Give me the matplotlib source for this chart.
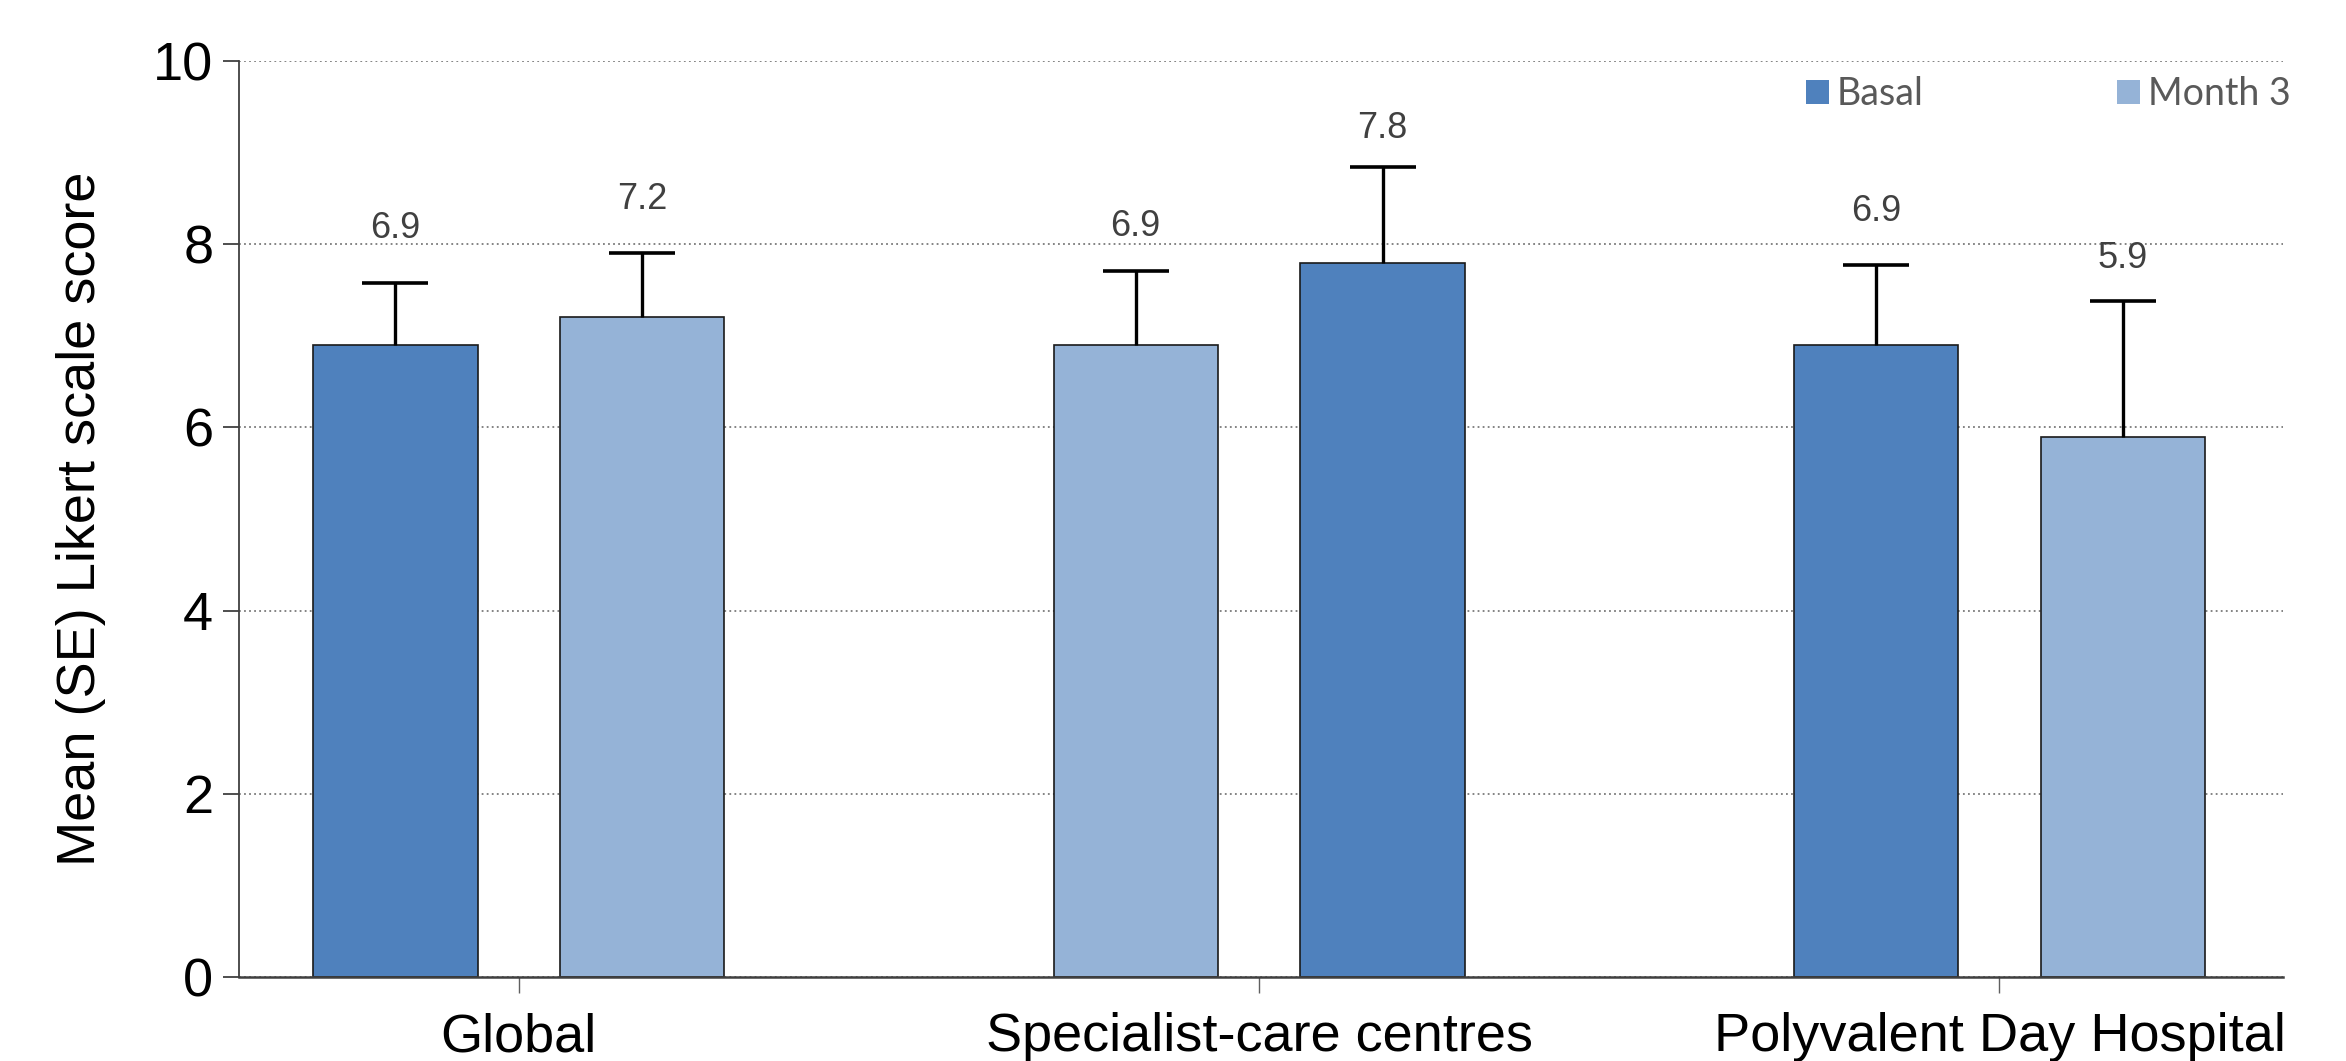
import numpy as np
import matplotlib
matplotlib.use("Agg")
import matplotlib.pyplot as plt
from matplotlib.patches import Patch

# Data
groups = ["Global", "Specialist-care centres", "Polyvalent Day Hospital"]
series = ["Basal", "Month 3"]
basal_mean = [6.9, 6.9, 6.9]
basal_se = [0.68, 0.81, 0.87]
month3_mean = [7.2, 7.8, 5.9]
month3_se = [0.70, 1.04, 1.48]
y_ticks = [0, 2, 4, 6, 8, 10]

# Styling
DARK = "#4F81BD"
LIGHT = "#95B3D7"
bar_colors = [[DARK, LIGHT], [LIGHT, DARK], [DARK, LIGHT]]
label_pad_pt = [[32, 32], [25, 21], [32, 24]]
bar_width = 0.222
offset = 0.1667

plt.rcParams["font.family"] = ["Liberation Sans", "DejaVu Sans"]

fig = plt.figure(figsize=(23.46, 10.61), dpi=100)
ax = fig.add_axes([239 / 2346, 1 - 977 / 1061, (2283 - 239) / 2346, (977 - 61) / 1061])

x = np.arange(len(groups))
means = [basal_mean, month3_mean]
ses = [basal_se, month3_se]
for s in range(2):
    xs = x + (-offset if s == 0 else offset)
    cols = [bar_colors[g][s] for g in range(len(groups))]
    ax.bar(xs, means[s], width=bar_width, color=cols, edgecolor="#1a1a1a",
           linewidth=1.2, zorder=2)
    # one-sided (upper) standard-error whiskers
    _, caps, _ = ax.errorbar(xs, means[s], yerr=[np.zeros(len(groups)), ses[s]],
                             fmt="none", ecolor="black", elinewidth=2.4,
                             capsize=24, capthick=2.6, zorder=3)
    for cap in caps:
        if np.allclose(cap.get_ydata(), means[s]):
            cap.set_visible(False)
    for g in range(len(groups)):
        ax.annotate(f"{means[s][g]:.1f}", (xs[g], means[s][g] + ses[s][g]),
                    xytext=(0, label_pad_pt[g][s]), textcoords="offset points",
                    ha="center", va="baseline", fontsize=26, color="#404040")

ax.set_xlim(-0.378, 2.383)
ax.set_ylim(0, 10)
ax.set_yticks(y_ticks)
ax.set_xticks(x)
ax.set_xticklabels(groups)
ax.yaxis.grid(True, linestyle=(0, (1, 1.8)), linewidth=1.3, color="#7a7a7a")
ax.set_axisbelow(True)

for side in ("top", "right"):
    ax.spines[side].set_visible(False)
ax.spines["left"].set_color("#404040")
ax.spines["left"].set_linewidth(1.3)
ax.spines["bottom"].set_color("#404040")
ax.spines["bottom"].set_linewidth(1.8)
ax.spines["bottom"].set_zorder(4)

ax.tick_params(axis="y", direction="out", length=11.5, width=1.3, color="#404040",
               pad=7, labelsize=39, labelcolor="black")
ax.tick_params(axis="x", direction="out", length=11.5, width=1.0, color="#606060",
               pad=14, labelsize=39, labelcolor="black")

fig.text(81 / 2346, 1 - 519 / 1061, "Mean (SE) Likert scale score", rotation=90,
         ha="center", va="center", fontsize=39, color="black")

handles = [Patch(facecolor=DARK, edgecolor="none"), Patch(facecolor=LIGHT, edgecolor="none")]
fig.legend(handles, series, loc="center left", bbox_to_anchor=(1806 / 2346, 1 - 94 / 1061),
           ncol=2, frameon=False, borderpad=0, borderaxespad=0,
           handlelength=0.61, handleheight=0.61, handletextpad=0.22, columnspacing=5.15,
           prop={"family": ["Lato", "DejaVu Sans"], "size": 27}, labelcolor="#595959")

fig.savefig("out.png", dpi=100)
